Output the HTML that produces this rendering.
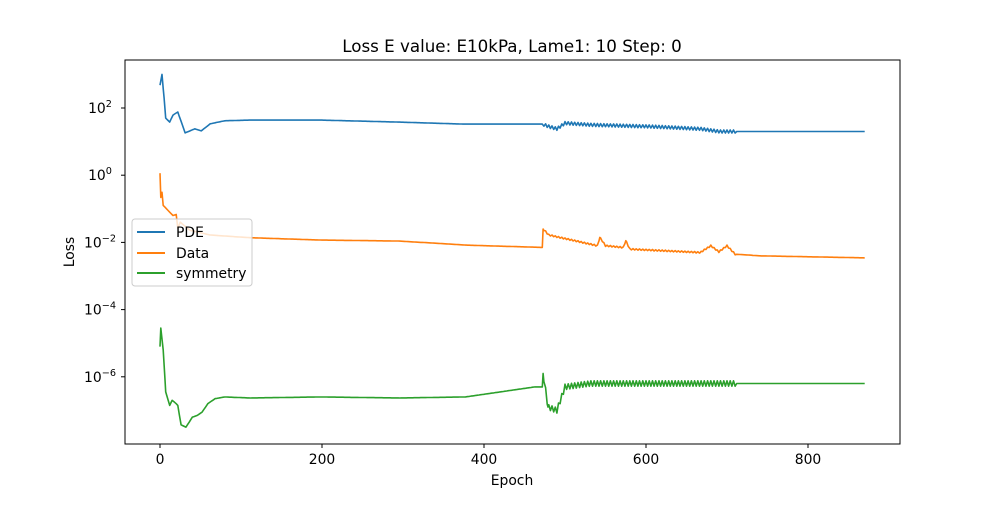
<!DOCTYPE html>
<html><head><meta charset="utf-8"><style>
body{margin:0;background:#fff;font-family:"Liberation Sans","DejaVu Sans",sans-serif}
svg text{font-family:"DejaVu Sans","Liberation Sans",sans-serif}
</style></head><body>
<svg id="chart" width="1000" height="500" viewBox="0 0 1000 500" xmlns="http://www.w3.org/2000/svg">
<rect width="1000" height="500" fill="#fff"/>
<text x="512" y="52" font-size="16.7" text-anchor="middle">Loss E value: E10kPa, Lame1: 10 Step: 0</text>
<g id="plot"></g>
<rect x="125" y="60" width="775" height="384" fill="none" stroke="#000" stroke-width="1"/>
<text x="512" y="485" font-size="13.9" text-anchor="middle">Epoch</text>
<text x="74" y="252" font-size="13.9" text-anchor="middle" transform="rotate(-90 74 252)">Loss</text>
<g>
<rect x="132" y="219" width="120" height="67" rx="3" fill="#fff" fill-opacity="0.8" stroke="#ccc"/>
<line x1="137" y1="232" x2="165" y2="232" stroke="#1f77b4" stroke-width="2"/>
<text x="176" y="237" font-size="13.9">PDE</text>
<line x1="137" y1="253" x2="165" y2="253" stroke="#ff7f0e" stroke-width="2"/>
<text x="176" y="258" font-size="13.9">Data</text>
<line x1="137" y1="273" x2="165" y2="273" stroke="#2ca02c" stroke-width="2"/>
<text x="176" y="278" font-size="13.9">symmetry</text>
</g>
</svg>
<script>
const xTicks=[0,200,400,600,800];
const yTickExps=[2,0,-2,-4,-6];
const pdeEpochs=[0,2.5,5,7,12,16,22,31,43,51,62,80,111,198,296,377,472,480,490,500,531,605,667,691,741,870];
const pdeLog=[2.68,3.0,2.3,1.7,1.58,1.79,1.88,1.26,1.38,1.32,1.53,1.62,1.64,1.64,1.58,1.52,1.52,1.45,1.38,1.55,1.5,1.45,1.38,1.3,1.3,1.3];
const dataEpochs=[0,1,2.5,4,10,16,20,22,25,37,62,111,198,296,377,472,473,480,531,540,543,550,572,575,580,667,680,690,700,710,741,870];
const dataLog=[0.06,-0.66,-0.51,-0.9,-1.05,-1.2,-1.17,-1.58,-1.4,-1.64,-1.78,-1.86,-1.93,-1.96,-2.08,-2.15,-1.6,-1.78,-2.05,-2.1,-1.85,-2.1,-2.15,-1.95,-2.2,-2.3,-2.1,-2.28,-2.1,-2.35,-2.4,-2.46];
const symEpochs=[0,1,4,7,12,15,20,22,26,32,40,46,52,59,68,80,111,198,296,377,463,472,473,479,490,500,531,700,870];
const symLog=[-5.1,-4.55,-5.2,-6.45,-6.85,-6.7,-6.8,-6.85,-7.43,-7.5,-7.2,-7.15,-7.05,-6.8,-6.65,-6.6,-6.63,-6.6,-6.63,-6.6,-6.3,-6.3,-5.9,-6.9,-7.0,-6.3,-6.2,-6.2,-6.2];
const noiseStart=473, noiseEnd=712;
const pdeNoise=0.045, dataNoise=0.02, symNoise=0.08;

const X=e=>160+e*0.81;
const Y=l=>108-(l-2)*33.6;
const NS='http://www.w3.org/2000/svg';
const plot=document.getElementById('plot');
const svg=document.getElementById('chart');
function interp(es,ls,e){for(let i=1;i<es.length;i++){if(e<=es[i]){const t=(e-es[i-1])/(es[i]-es[i-1]||1);return ls[i-1]+t*(ls[i]-ls[i-1]);}}return ls[ls.length-1];}
function series(es,ls,amp,color,name){
  const pts=[];
  const set=new Set(es);
  for(let e=0;e<=870;e+=2)set.add(e);
  const all=[...set].sort((a,b)=>a-b);
  let k=0;
  all.forEach(e=>{let l=interp(es,ls,e);
    if(e>noiseStart&&e<noiseEnd&&e%2===0){l+=(k++%2?amp:-amp);}
    pts.push(X(e).toFixed(1)+','+Y(l).toFixed(1));});
  const p=document.createElementNS(NS,'polyline');
  p.setAttribute('points',pts.join(' '));
  p.setAttribute('fill','none');p.setAttribute('stroke',color);p.setAttribute('stroke-width','1.6');
  p.setAttribute('stroke-linejoin','round');
  
  
  plot.appendChild(p);
}
series(pdeEpochs,pdeLog,pdeNoise,'#1f77b4','pde-line');
series(dataEpochs,dataLog,dataNoise,'#ff7f0e','data-line');
series(symEpochs,symLog,symNoise,'#2ca02c','symmetry-line');
xTicks.forEach(v=>{
  const l=document.createElementNS(NS,'line');
  l.setAttribute('x1',X(v));l.setAttribute('x2',X(v));l.setAttribute('y1',444);l.setAttribute('y2',448);l.setAttribute('stroke','#000');
  
  
  svg.appendChild(l);
  const t=document.createElementNS(NS,'text');
  t.setAttribute('x',X(v));t.setAttribute('y',464);t.setAttribute('font-size','13.9');t.setAttribute('text-anchor','middle');
  t.textContent=v;
  
  
  svg.appendChild(t);
});
yTickExps.forEach(v=>{
  const y=Y(v);
  const l=document.createElementNS(NS,'line');
  l.setAttribute('x1',125);l.setAttribute('x2',121);l.setAttribute('y1',y);l.setAttribute('y2',y);l.setAttribute('stroke','#000');
  
  
  svg.appendChild(l);
  const t=document.createElementNS(NS,'text');
  t.setAttribute('x',100);t.setAttribute('y',y+5);t.setAttribute('font-size','13.9');t.setAttribute('text-anchor','middle');
  t.innerHTML='10<tspan dy="-6" font-size="9.7">'+(v<0?'\u2212'+(-v):v)+'</tspan>';
  
  
  svg.appendChild(t);
});
</script>
</body></html>
